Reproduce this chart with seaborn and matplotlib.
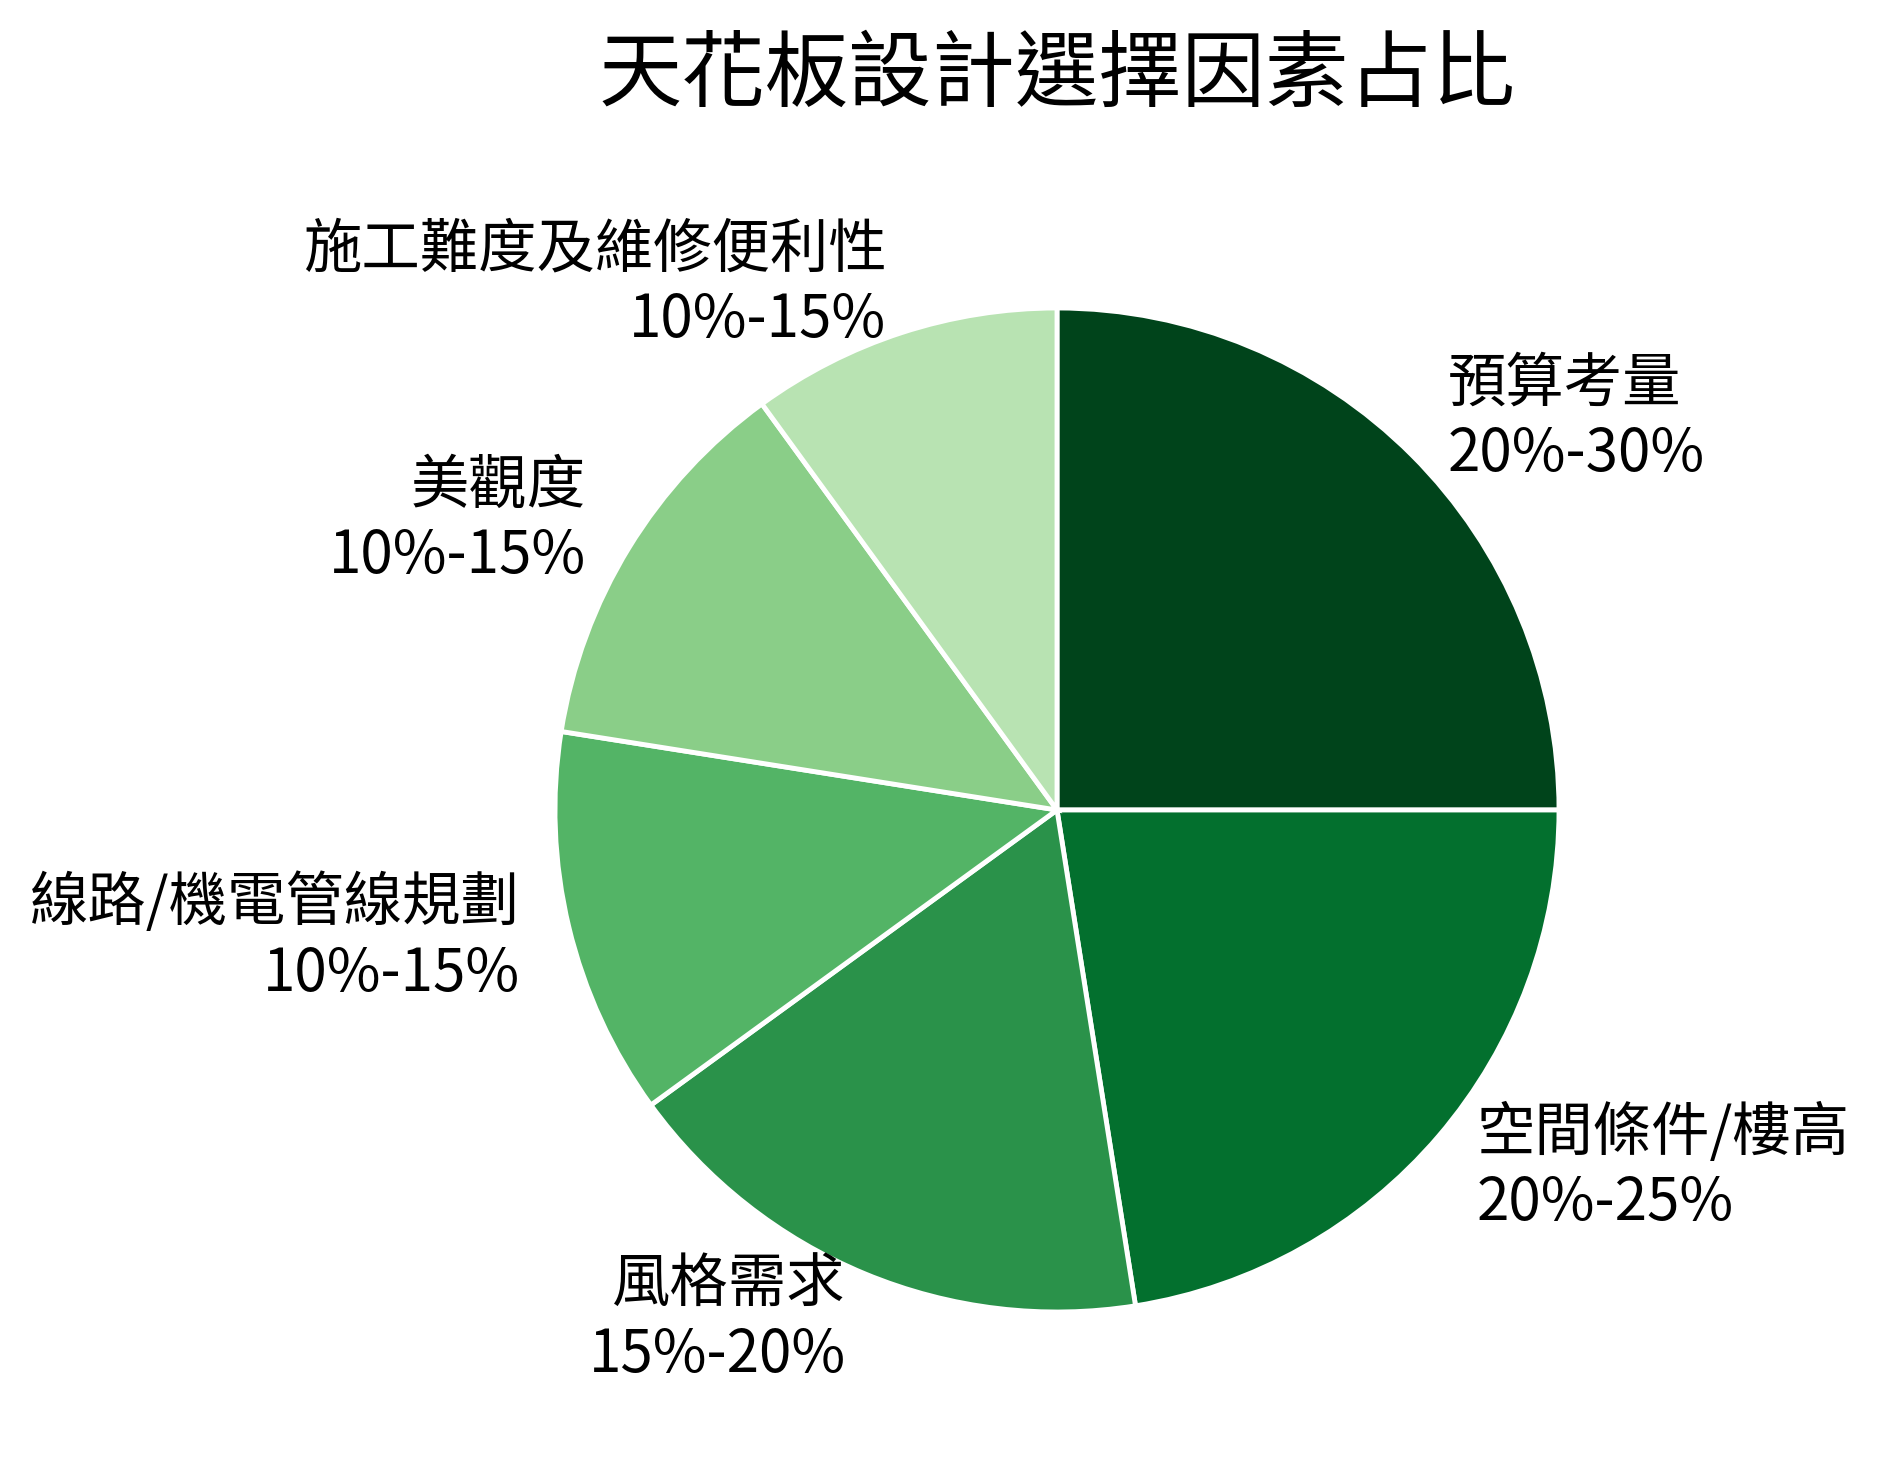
import numpy as np
import seaborn as sns
import matplotlib.pyplot as plt

factors = ['預算考量', '空間條件/樓高', '風格需求', '線路/機電管線規劃', '美觀度', '施工難度及維修便利性']
ranges = ['20%-30%', '20%-25%', '15%-20%', '10%-15%', '10%-15%', '10%-15%']
shares = [25, 22.5, 17.5, 12.5, 12.5, 10]

sns.set_theme(style='white')
plt.rcParams['font.family'] = ['Noto Sans CJK TC', 'DejaVu Sans']

greens = sns.color_palette('Greens', as_cmap=True)
c_palette = [greens(v) for v in np.linspace(1.0, 0.3, len(shares))]

fig = plt.figure(figsize=(18.81, 14.68), dpi=100)
ax = fig.add_axes([555 / 1881, 156 / 1468, 1004 / 1881, 1004 / 1468])

labels = [f'{f}\n{r}' for f, r in zip(factors, ranges)]
ax.pie(shares,
       labels=labels,
       colors=c_palette,
       startangle=90,
       counterclock=False,
       labeldistance=1.1,
       wedgeprops=dict(edgecolor='white', linewidth=3.5),
       textprops=dict(fontsize=42, color='black'))
ax.set_xlim(-1, 1)
ax.set_ylim(-1, 1)
ax.set_aspect('equal')

fig.text(1057 / 1881, 1 - 76 / 1468, '天花板設計選擇因素占比',
         ha='center', va='center', fontsize=60, color='black')

plt.savefig('out.png', dpi=100)
